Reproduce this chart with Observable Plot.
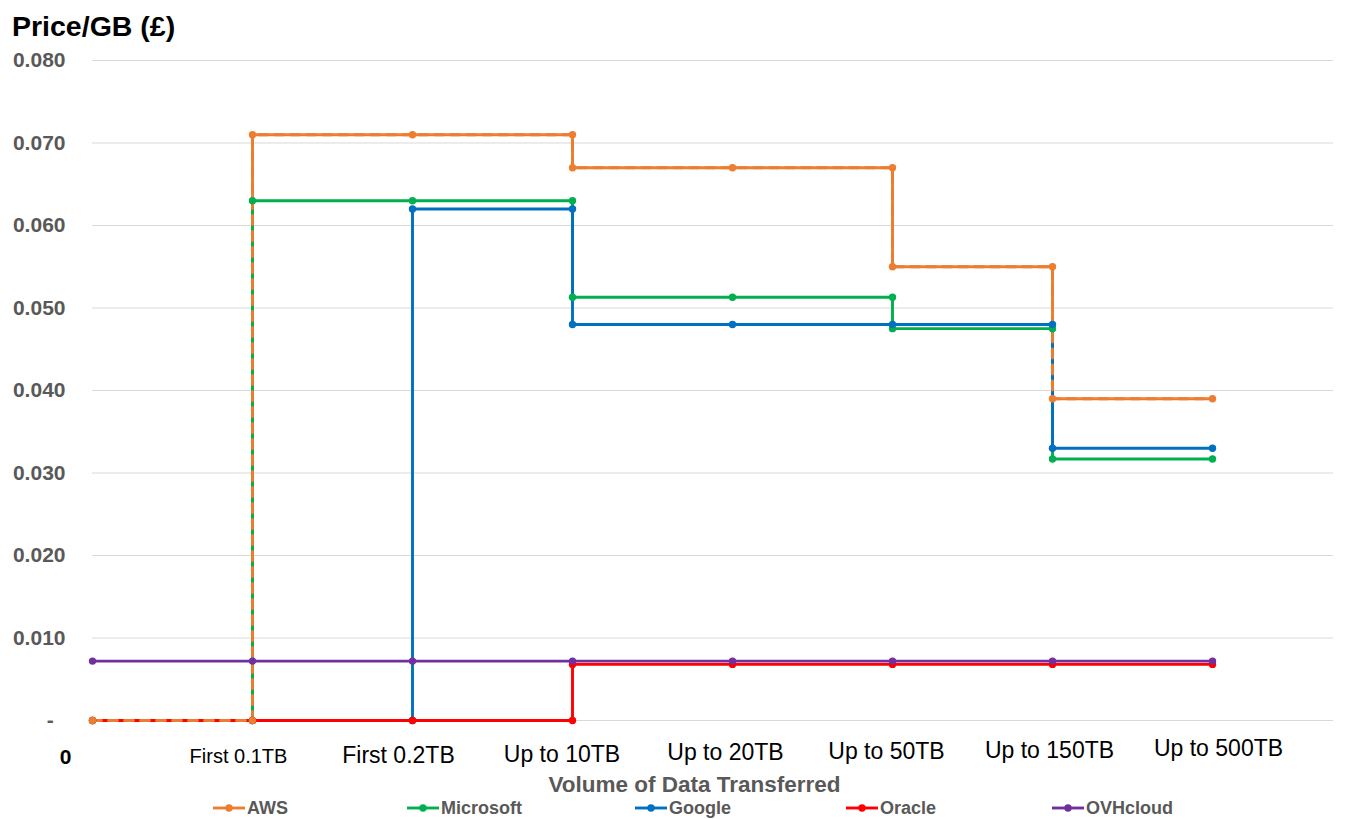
<!DOCTYPE html>
<html>
<head>
<meta charset="utf-8">
<script src="https://cdn.jsdelivr.net/npm/d3@7"></script>
<script src="https://cdn.jsdelivr.net/npm/@observablehq/plot@0.6"></script>
<style>
  body { margin: 0; background: #fff; font-family: "Liberation Sans", Arial, sans-serif; }
  #wrap { position: relative; width: 1362px; height: 819px; overflow: hidden; }
  #chart { position: absolute; left: 0; top: 0; }
  #title { position: absolute; left: 12px; top: 12.3px; font-size: 28.5px; line-height: 1; font-weight: bold; color: #000; white-space: nowrap; }
  .lg { position: absolute; top: 799px; height: 18px; line-height: 18px; display: flex; align-items: center; font-size: 18px; font-weight: bold; color: #595959; white-space: nowrap; }
  .lg svg { display: block; margin-right: 2px; }
</style>
</head>
<body>
<div id="wrap">
  <div id="chart"></div>
  <div id="title">Price/GB (£)</div>
  <div id="legend"></div>
</div>
<script>
// ---------- DATA ----------
const categories = ["0", "First 0.1TB", "First 0.2TB", "Up to 10TB", "Up to 20TB", "Up to 50TB", "Up to 150TB", "Up to 500TB"];
const providers = ["AWS", "Microsoft", "Google", "Oracle", "OVHcloud"];
const aws       = [0, 0.071, 0.071, 0.067, 0.067, 0.055, 0.039, 0.039];
const microsoft = [0, 0.063, 0.063, 0.0513, 0.0513, 0.0475, 0.0317, 0.0317];
const google    = [0, 0, 0.062, 0.048, 0.048, 0.048, 0.033, 0.033];
const oracle    = [0, 0, 0, 0.0068, 0.0068, 0.0068, 0.0068, 0.0068];
const ovhcloud  = [0.0072, 0.0072, 0.0072, 0.0072, 0.0072, 0.0072, 0.0072, 0.0072];
const yTicks = [0, 0.01, 0.02, 0.03, 0.04, 0.05, 0.06, 0.07, 0.08];
const xTitle = "Volume of Data Transferred";

// ---------- STYLE / LAYOUT ----------
const colors = ["#ED7D31", "#00B050", "#0070C0", "#FF0000", "#7030A0"];
const labelDx = [-27, -14, -14, -10.5, -7, -6, -3, 6];
const labelDy = [43, 42, 42, 41, 39, 38, 37, 35];
const labelSize = [21, 20, 23, 23, 23, 23, 23, 23];
const legendLeft = [213, 407, 635, 846, 1052];
const dotOrder = ["Microsoft", "Google", "Oracle", "OVHcloud", "AWS"];

const seriesValues = [aws, microsoft, google, oracle, ovhcloud];

// expand tier values into step vertices (vertical drop at each category)
function stepPoints(name, vals) {
  const pts = [];
  vals.forEach((v, i) => {
    if (i > 0 && vals[i - 1] !== v) pts.push({series: name, x: categories[i], y: vals[i - 1]});
    pts.push({series: name, x: categories[i], y: v});
  });
  return pts;
}
const allPoints = providers.flatMap((p, i) => stepPoints(p, seriesValues[i]));
const awsPoints = allPoints.filter(d => d.series === "AWS");
const dotPoints = dotOrder.flatMap(s => allPoints.filter(d => d.series === s));

const font = "Liberation Sans, Arial, sans-serif";

const marks = [
  Plot.gridY(yTicks, {stroke: "#d9d9d9", strokeOpacity: 1, strokeWidth: 1}),
  Plot.line(allPoints, {x: "x", y: "y", z: "series", stroke: "series", strokeWidth: 2.9, curve: "linear"}),
  Plot.line(awsPoints, {x: "x", y: "y", stroke: colors[0], strokeWidth: 2.9, strokeDasharray: "9,7"}),
  Plot.dot(dotPoints, {x: "x", y: "y", fill: "series", r: 3.7, stroke: "none"}),
  Plot.axisY(yTicks, {
    tickSize: 0, tickPadding: 27, fontSize: 21, fontWeight: "bold", fill: "#595959",
    tickFormat: d => d === 0 ? "-\u00a0\u00a0" : d.toFixed(3), label: null
  }),
  ...categories.map((c, i) => Plot.text([c], {
    x: d => d, frameAnchor: "bottom", lineAnchor: "bottom",
    dx: labelDx[i], dy: labelDy[i], fontSize: labelSize[i],
    fontWeight: i === 0 ? "bold" : "normal", fill: "#000"
  })),
  Plot.text([xTitle], {frameAnchor: "bottom", lineAnchor: "bottom", dx: -18.5, dy: 71, fontSize: 22.5, fontWeight: "bold", fill: "#595959"})
];

const chart = Plot.plot({
  width: 1362,
  height: 800,
  marginTop: 60,
  marginBottom: 80,
  marginLeft: 92,
  marginRight: 29,
  style: {fontFamily: font, background: "transparent", overflow: "visible"},
  x: {type: "point", domain: categories, range: [92, 1213], padding: 0, align: 0, axis: null},
  y: {domain: [0, 0.08], axis: null},
  color: {domain: providers, range: colors},
  marks
});
document.getElementById("chart").appendChild(chart);

// legend
const legend = document.getElementById("legend");
providers.forEach((p, i) => {
  const item = document.createElement("div");
  item.className = "lg";
  item.style.left = legendLeft[i] + "px";
  item.innerHTML = `<svg width="32" height="18"><line x1="0" x2="32" y1="9" y2="9" stroke="${colors[i]}" stroke-width="2.9"/><circle cx="16" cy="9" r="3.7" fill="${colors[i]}"/></svg><span>${p}</span>`;
  legend.appendChild(item);
});
</script>
</body>
</html>
